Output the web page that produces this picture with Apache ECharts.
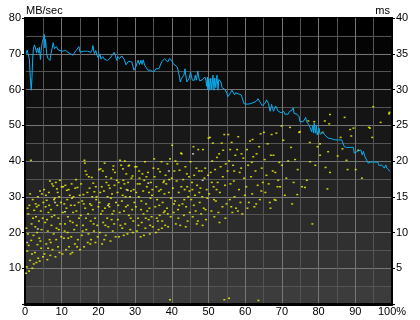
<!DOCTYPE html>
<html><head><meta charset="utf-8">
<script src="https://cdn.jsdelivr.net/npm/echarts/dist/echarts.min.js"></script>
<style>html,body{margin:0;padding:0;background:#fff}#c{width:420px;height:320px}</style>
</head><body><div id="c"></div>
<script>
// Transfer rate (MB/sec) vs position (%)
const transferRate = [[0.27,70.0],[0.6,71.0],[1.0,71.2],[1.2,68.4],[1.45,63.3],[1.7,59.8],[1.9,63.3],[2.1,68.8],[2.3,71.6],[2.6,72.5],[2.9,72.8],[3.2,70.3],[3.4,71.6],[3.7,70.3],[3.9,71.8],[4.2,68.4],[4.4,71.0],[4.7,73.1],[4.9,72.6],[5.3,75.4],[5.4,71.6],[5.6,74.0],[5.9,70.0],[6.2,68.8],[6.6,68.8],[6.8,68.1],[7.1,70.0],[7.4,71.6],[7.7,73.1],[8.0,71.4],[8.4,71.0],[8.6,72.0],[9.0,71.1],[9.5,71.3],[10.1,70.7],[10.6,71.1],[11.1,70.9],[11.5,70.9],[12.0,70.2],[12.4,70.4],[13.0,69.6],[13.4,70.0],[13.9,70.9],[14.3,70.7],[14.7,72.0],[15.0,70.4],[15.5,70.4],[15.9,70.7],[16.4,70.4],[17.0,70.7],[17.5,70.4],[17.9,70.4],[18.3,71.1],[18.5,72.3],[18.9,70.0],[19.3,70.9],[19.6,69.6],[20.0,68.8],[20.4,70.0],[20.7,68.5],[21.2,69.2],[21.6,68.5],[22.1,68.8],[22.5,68.1],[23.2,68.8],[23.7,69.0],[24.3,70.4],[24.6,69.6],[25.0,68.1],[25.3,69.2],[25.7,68.6],[26.0,68.8],[26.4,69.4],[26.8,69.0],[27.1,68.3],[27.5,66.9],[27.9,66.7],[28.2,67.9],[28.6,67.9],[29.1,67.7],[29.7,65.4],[30.2,66.3],[30.8,68.2],[31.2,67.0],[31.6,68.2],[31.9,67.0],[32.2,68.3],[32.6,66.8],[33.0,66.3],[33.5,65.4],[34.1,65.4],[34.6,65.4],[35.1,64.9],[35.7,65.8],[36.2,66.3],[36.5,65.8],[37.0,67.2],[37.4,67.9],[38.0,68.6],[38.4,69.0],[38.9,67.7],[39.3,68.6],[39.9,68.3],[40.4,67.2],[40.9,66.8],[41.5,66.3],[41.8,66.5],[42.1,63.5],[42.3,62.1],[42.6,63.0],[42.9,62.6],[43.3,64.0],[43.6,65.8],[43.8,64.0],[44.1,62.1],[44.4,61.8],[44.7,63.0],[45.1,64.9],[45.3,65.4],[45.6,62.6],[46.0,62.3],[46.2,62.6],[46.4,64.0],[46.7,62.6],[47.1,65.2],[47.3,63.5],[47.6,62.4],[48.0,62.4],[48.4,62.8],[48.7,62.6],[49.0,63.5],[49.3,62.6],[49.5,60.9],[49.7,63.5],[49.8,60.0],[50.1,63.0],[50.4,59.8],[50.6,63.2],[50.9,60.0],[51.2,64.0],[51.5,59.8],[51.7,63.2],[52.0,60.5],[52.3,64.0],[52.6,59.8],[52.8,62.8],[53.1,63.2],[53.4,62.1],[53.7,60.5],[54.2,60.2],[54.5,60.0],[55.0,58.9],[55.3,58.0],[55.7,58.0],[56.0,59.1],[56.4,59.8],[56.7,59.4],[57.1,58.5],[57.4,59.1],[57.8,58.7],[58.3,58.7],[58.9,58.5],[59.2,57.6],[59.7,56.0],[60.0,55.8],[60.6,55.9],[61.3,56.0],[61.9,56.2],[62.4,56.4],[63.0,56.7],[63.5,57.4],[63.8,57.1],[64.2,56.2],[64.6,55.5],[65.0,55.3],[65.5,56.2],[65.8,57.1],[66.3,56.2],[66.8,53.9],[67.2,55.8],[67.7,53.9],[68.3,55.4],[69.0,53.9],[69.8,53.5],[70.5,53.9],[70.8,53.1],[71.2,53.6],[71.7,53.1],[72.0,53.8],[72.4,53.3],[72.8,54.3],[73.1,54.9],[73.3,53.3],[73.7,53.8],[74.1,53.1],[74.5,53.6],[74.7,52.4],[74.9,51.0],[75.4,50.6],[75.8,51.0],[76.1,50.6],[76.5,52.2],[76.7,51.0],[77.0,51.5],[77.4,50.1],[77.7,50.2],[78.1,48.2],[78.4,49.9],[78.6,47.8],[78.8,50.6],[79.1,47.8],[79.4,50.1],[79.6,47.3],[79.9,48.4],[80.1,49.2],[80.4,47.5],[80.8,47.8],[81.2,48.0],[81.7,47.3],[82.1,46.8],[82.6,46.4],[83.0,46.5],[83.6,46.2],[84.0,46.2],[84.5,45.9],[85.4,45.9],[86.3,45.9],[86.7,45.9],[87.0,44.0],[87.6,43.8],[88.6,43.8],[89.5,43.8],[89.7,42.2],[90.2,42.2],[90.6,42.7],[91.0,42.2],[91.5,43.1],[91.9,41.7],[92.2,42.7],[92.6,41.3],[93.1,40.8],[93.5,39.4],[94.1,39.7],[94.6,39.7],[95.3,39.7],[96.1,39.7],[96.5,38.7],[96.8,38.2],[97.2,38.9],[97.5,38.5],[97.9,38.0],[98.3,38.9],[98.6,38.0],[99.0,37.5],[99.5,37.1]];

// Access time (ms) vs position (%)
const accessTime = [
[0.3,4.3],[0.5,5.2],[0.6,7.4],[0.8,9.8],[0.9,12.6],[1.1,4.6],[1.2,13.8],[1.4,15.4],[1.4,6.1],[1.6,20.1],[1.7,8.9],[1.8,11.2],[2.0,5.0],[2.1,14.6],[2.3,9.6],[2.4,5.6],[2.5,13.1],[2.7,7.2],[2.8,10.8],[3.0,12.2],[3.1,5.8],[3.2,13.6],[3.4,8.3],[3.5,15.0],[3.6,6.4],[3.8,11.6],[3.9,9.2],[4.0,6.0],[4.1,15.8],[4.3,13.0],[4.4,7.8],[4.5,10.4],[4.6,15.4],[4.8,12.0],[4.9,6.6],[5.0,14.2],[0.4,10.6],[1.0,8.2],[2.2,12.0],[3.3,10.0],[4.2,8.8],[2.9,14.0],[1.9,7.0],[0.7,13.4],[3.7,13.8],
[5.2,16.0],[5.3,7.0],[5.5,11.4],[5.6,13.6],[5.8,8.4],[5.9,14.5],[6.1,6.2],[6.2,10.2],[6.4,12.8],[6.5,15.6],[6.7,9.0],[6.8,17.2],[6.9,6.8],[7.1,13.2],[7.2,11.0],[7.4,16.8],[7.5,7.6],[7.7,16.5],[7.8,9.8],[8.0,12.4],[8.1,14.8],[8.3,6.6],[8.4,17.0],[8.6,10.6],[8.7,16.1],[8.8,13.8],[9.0,8.0],[9.1,12.0],[9.3,15.0],[9.4,7.2],[9.5,17.3],[9.6,11.2],[9.8,14.2],[9.9,9.4],[10.0,16.4],[6.0,11.8],[7.0,8.6],[8.5,9.0],[5.7,15.2],[6.6,13.8],[7.9,14.6],[9.2,10.4],[8.9,15.6],[7.3,12.2],[6.3,7.8],
[10.2,7.0],[10.3,12.8],[10.4,16.4],[10.6,9.2],[10.7,14.0],[10.9,11.2],[11.0,16.6],[11.2,7.6],[11.3,13.4],[11.4,15.9],[11.6,10.0],[11.7,12.2],[11.9,16.0],[12.0,8.0],[12.2,15.2],[12.3,11.6],[12.5,13.8],[12.6,9.4],[12.8,14.8],[12.9,7.2],[13.1,12.8],[13.2,15.0],[13.4,10.4],[13.6,8.4],[13.7,16.2],[13.9,17.4],[14.0,13.0],[14.1,11.0],[14.3,16.3],[14.4,9.0],[14.6,14.2],[14.7,12.0],[14.9,15.2],[15.0,7.6],[10.8,10.2],[11.8,9.2],[12.7,16.8],[13.0,11.4],[13.5,13.8],[14.2,8.0],[11.5,14.6],[12.4,7.0],
[15.2,12.4],[15.3,16.8],[15.5,9.6],[15.6,14.4],[15.8,11.0],[15.9,15.3],[16.1,8.0],[16.2,20.1],[16.3,19.7],[16.4,13.4],[16.5,18.6],[16.7,10.4],[16.8,18.1],[17.0,15.6],[17.1,8.6],[17.2,12.6],[17.4,17.8],[17.6,16.2],[17.7,14.0],[17.9,11.6],[18.0,9.0],[18.2,17.7],[18.3,15.0],[18.5,13.2],[18.6,16.9],[18.8,10.2],[18.9,15.7],[19.1,12.0],[19.2,8.6],[19.4,14.6],[19.5,15.0],[19.7,11.0],[19.8,9.4],[20.0,13.6],[15.7,10.2],[16.6,12.0],[17.3,9.8],[18.1,13.8],[18.7,11.2],[19.3,16.4],[16.0,14.0],[17.8,8.4],
[20.2,18.8],[20.3,14.2],[20.4,10.0],[20.6,18.9],[20.7,12.6],[20.9,16.4],[21.0,8.4],[21.2,18.6],[21.3,11.4],[21.5,15.8],[21.7,19.7],[21.8,13.4],[22.0,9.6],[22.1,17.8],[22.2,17.0],[22.4,12.0],[22.5,15.0],[22.7,10.8],[22.8,16.6],[23.0,13.6],[23.1,16.2],[23.3,8.8],[23.4,14.8],[23.6,11.8],[23.7,15.4],[23.9,10.2],[24.0,18.8],[24.1,19.3],[24.2,13.0],[24.4,16.6],[24.5,18.4],[24.7,9.4],[24.8,14.2],[25.0,17.3],[20.5,15.6],[21.1,13.0],[21.9,11.0],[22.9,14.0],[23.5,17.6],[24.3,11.2],[21.6,9.0],[23.8,12.6],
[25.2,15.6],[25.3,11.8],[25.5,17.0],[25.6,9.4],[25.8,12.8],[25.9,20.1],[26.1,16.2],[26.2,19.4],[26.4,14.4],[26.5,10.6],[26.7,18.9],[26.8,17.3],[27.0,13.0],[27.1,16.8],[27.3,11.2],[27.4,15.0],[27.6,18.2],[27.7,16.0],[27.9,9.8],[28.0,13.8],[28.2,19.3],[28.3,12.4],[28.4,19.4],[28.6,15.0],[28.7,10.4],[28.9,15.8],[29.0,17.6],[29.2,13.2],[29.3,17.9],[29.5,11.6],[29.6,16.0],[29.8,14.2],[30.0,19.2],[25.4,13.8],[26.0,11.0],[26.9,9.6],[27.5,13.6],[28.1,17.0],[28.8,12.0],[29.4,10.0],[26.6,15.2],[27.2,20.0],
[30.2,13.6],[30.4,19.2],[30.5,10.2],[30.7,16.8],[30.8,12.0],[31.0,15.0],[31.2,17.6],[31.3,16.8],[31.5,9.4],[31.7,14.4],[31.8,11.4],[32.0,18.2],[32.2,15.8],[32.3,12.6],[32.5,17.3],[32.7,19.9],[32.8,10.6],[33.0,14.0],[33.2,16.4],[33.3,13.0],[33.5,18.4],[33.7,11.8],[33.8,15.6],[34.0,9.8],[34.2,14.8],[34.3,17.0],[34.5,12.2],[34.7,16.0],[34.8,10.8],[35.0,19.0],[30.9,11.0],[31.6,13.2],[32.4,9.6],[33.1,17.8],[33.9,13.4],[34.6,15.2],[32.9,12.0],[31.1,18.6],[30.3,15.6],[34.1,11.0],
[35.2,20.3],[35.3,17.8],[35.5,13.6],[35.7,10.0],[35.8,16.4],[36.0,14.6],[36.2,11.6],[36.3,18.9],[36.5,15.8],[36.7,12.4],[36.8,18.5],[37.0,16.0],[37.2,19.9],[37.3,10.6],[37.5,14.2],[37.7,17.0],[37.8,12.8],[38.0,15.4],[38.2,11.0],[38.3,18.0],[38.5,16.8],[38.7,13.4],[38.8,19.6],[39.0,10.8],[39.2,15.6],[39.3,17.4],[39.5,20.3],[39.5,0.6],[39.7,12.2],[39.8,14.8],[40.0,17.6],[35.9,12.0],[36.6,13.8],[37.4,11.6],[38.1,13.0],[38.9,12.6],[37.9,17.2],[36.4,10.4],
[40.1,22.2],[40.3,16.2],[40.5,12.8],[40.7,18.6],[40.9,14.4],[41.1,11.2],[41.3,17.2],[41.5,19.6],[41.7,13.2],[41.9,15.6],[42.1,18.7],[42.3,11.0],[42.5,21.1],[42.7,21.0],[42.9,14.0],[43.1,17.4],[43.3,12.4],[43.5,16.0],[43.7,19.2],[43.9,13.6],[44.1,18.2],[44.3,11.6],[44.5,15.0],[44.7,17.8],[44.9,12.8],[45.1,19.9],[40.6,14.0],[41.0,20.0],[41.8,12.0],[42.6,16.4],[43.4,14.6],[44.2,16.4],[42.0,13.8],[43.8,10.8],[44.8,15.8],
[45.3,14.6],[45.5,17.0],[45.7,12.2],[45.9,22.0],[46.1,18.0],[46.3,15.2],[46.5,13.0],[46.7,19.0],[46.9,16.6],[47.1,11.6],[47.2,21.6],[47.4,18.6],[47.6,14.2],[47.8,16.2],[48.0,12.6],[48.1,18.6],[48.3,15.0],[48.5,21.6],[48.7,13.4],[48.9,17.6],[49.1,19.0],[49.3,11.8],[49.5,16.0],[49.7,14.8],[49.9,18.0],[50.0,23.2],[46.0,13.8],[46.8,11.2],[47.5,15.6],[48.4,11.0],[49.2,13.2],[45.6,16.0],
[50.2,15.4],[50.4,23.3],[50.6,18.4],[50.8,13.0],[51.0,20.0],[51.2,22.5],[51.4,16.4],[51.6,12.2],[51.8,18.8],[52.0,14.4],[52.3,20.5],[52.5,17.0],[52.7,12.8],[52.9,21.0],[53.1,15.6],[53.3,19.2],[53.6,22.5],[53.8,13.6],[54.0,21.5],[54.3,23.7],[54.3,0.6],[54.5,16.6],[54.7,19.6],[54.9,14.0],[51.5,14.6],[53.0,11.4],[52.2,16.0],[50.9,17.0],[53.9,17.8],[54.6,12.0],
[55.2,18.6],[55.4,23.7],[55.6,0.8],[55.6,20.0],[55.8,14.6],[56.0,16.8],[56.3,22.6],[56.5,12.8],[56.7,19.4],[56.9,17.2],[57.1,15.0],[57.3,20.8],[57.5,13.4],[57.8,21.6],[58.1,23.4],[58.3,16.0],[58.5,18.4],[58.7,14.2],[59.0,21.0],[59.2,12.6],[59.5,20.4],[59.7,17.6],[59.9,15.2],[56.2,13.6],[57.0,18.6],[58.0,13.0],[58.9,19.0],[55.9,21.6],
[60.3,16.4],[60.5,21.6],[60.8,19.4],[61.0,14.2],[61.3,22.8],[61.6,17.8],[61.9,15.4],[62.2,20.6],[62.5,13.6],[62.8,18.6],[63.1,21.0],[63.4,16.6],[63.6,0.5],[63.8,22.0],[64.0,14.6],[64.2,23.8],[64.5,19.0],[64.8,17.0],[65.1,24.0],[60.6,13.4],[61.8,19.8],[63.0,14.0],[64.4,15.8],[62.0,23.0],
[65.3,20.2],[65.5,15.6],[65.8,18.0],[66.1,22.4],[66.4,16.8],[66.7,14.2],[67.0,20.8],[67.2,23.7],[67.5,18.6],[67.7,20.8],[68.0,14.6],[68.3,14.5],[68.5,23.9],[68.8,16.4],[69.0,17.3],[69.3,19.8],[69.5,16.4],[69.9,24.9],[66.9,13.4],[68.2,18.4],
[70.0,19.4],[70.4,22.9],[70.8,15.2],[71.2,17.6],[71.7,20.0],[72.2,24.7],[72.5,21.9],[72.8,14.0],[73.2,17.0],[73.6,20.2],[74.2,15.3],[74.3,18.8],[74.7,24.0],[74.9,24.1],[75.5,16.4],[76.3,16.3],[76.8,17.3],[77.2,25.6],[77.6,22.6],[77.7,19.9],[78.3,11.2],[78.8,25.5],[79.1,19.4],[79.7,22.0],
[80.4,20.8],[80.4,22.4],[81.1,24.0],[81.7,25.6],[81.9,19.1],[82.4,16.1],[82.6,21.3],[82.9,25.2],[83.1,26.5],[83.1,18.4],[85.2,20.7],[86.0,23.3],[86.5,21.7],[87.1,26.1],[87.6,20.1],[87.9,18.8],[88.6,24.4],[88.9,23.5],[89.5,24.6],
[90.1,18.8],[90.8,21.5],[91.8,17.6],[93.7,24.7],[94.0,24.6],[94.6,23.3],[94.9,27.6],[96.9,25.4],[99.2,26.6],[99.3,26.8]
];
// A few paler access-time dots
const accessTimePale = [[0.6,8.6],[3.5,10.5],[8.2,14.2],[10.9,12.9],[22.6,13.8],[28.0,15.9],[33.6,16.9],[39.2,18.6],[45.8,21.0],[48.4,17.3]];

const xTickLabels = [0,10,20,30,40,50,60,70,80,90,100];
const leftTitle = 'MB/sec';
const rightTitle = 'ms';

const stops = [];
for (let k = 0; k < 16; k++) {
  const g = Math.round(k * 60 / 15);
  const c = 'rgb(' + g + ',' + g + ',' + g + ')';
  stops.push({offset: k / 16, color: c}, {offset: (k + 1) / 16, color: c});
}
const FONT = 'Liberation Sans';
const lbl = {color: '#000', fontSize: 11, fontFamily: FONT};
const chart = echarts.init(document.getElementById('c'), null, {renderer: 'canvas'});
chart.setOption({
  animation: false,
  backgroundColor: '#fff',
  grid: {left: 25, right: 28, top: 18, bottom: 16, show: true,
    backgroundColor: {type: 'linear', x: 0, y: 0, x2: 0, y2: 1, colorStops: stops},
    borderColor: '#000', borderWidth: 2},
  graphic: [
    {type: 'text', left: 26, top: 5, style: {text: leftTitle, fill: '#000', font: '11px ' + FONT}},
    {type: 'text', right: 30, top: 5, style: {text: rightTitle, fill: '#000', font: '11px ' + FONT}}
  ],
  xAxis: {type: 'value', min: 0, max: 100, interval: 10,
    axisLine: {show: true, onZero: false, lineStyle: {color: '#000', width: 3}},
    axisTick: {show: false},
    axisLabel: Object.assign({margin: 2, formatter: v => xTickLabels.indexOf(v) < 0 ? '' : (v === 100 ? '100%' : String(v))}, lbl),
    splitLine: {show: true, showMinLine: false, showMaxLine: false, lineStyle: {color: '#767676', width: 1}},
    minorTick: {show: false, splitNumber: 2},
    minorSplitLine: {show: true, lineStyle: {color: '#545454', width: 1}}
  },
  yAxis: [
    {type: 'value', min: 0, max: 80, interval: 10, position: 'left',
      axisLine: {show: true, lineStyle: {color: '#000', width: 2}},
      axisTick: {show: true, length: 3, lineStyle: {color: '#000'}},
      axisLabel: Object.assign({margin: 4, formatter: v => v === 0 ? '' : String(v)}, lbl),
      splitLine: {show: true, showMinLine: false, showMaxLine: false, lineStyle: {color: '#767676', width: 1}},
      minorTick: {show: false, splitNumber: 2},
      minorSplitLine: {show: true, lineStyle: {color: '#545454', width: 1}}
    },
    {type: 'value', min: 0, max: 40, interval: 5, position: 'right',
      axisLine: {show: true, lineStyle: {color: '#000', width: 2}},
      axisTick: {show: true, length: 3, lineStyle: {color: '#000'}},
      axisLabel: Object.assign({margin: 4, formatter: v => v === 0 ? '' : String(v)}, lbl),
      splitLine: {show: false}
    }
  ],
  series: [
    {type: 'scatter', yAxisIndex: 1, data: accessTime, symbol: 'rect', symbolSize: [2, 1.5],
      itemStyle: {color: '#ffff00'}, silent: true, z: 2},
    {type: 'scatter', yAxisIndex: 1, data: accessTimePale, symbol: 'rect', symbolSize: [2, 1.5],
      itemStyle: {color: '#f0f0d8'}, silent: true, z: 2},
    {type: 'line', yAxisIndex: 0, data: transferRate, showSymbol: false, symbol: 'none',
      lineStyle: {color: '#0aaef0', width: 1}, silent: true, z: 3}
  ]
});
</script></body></html>
